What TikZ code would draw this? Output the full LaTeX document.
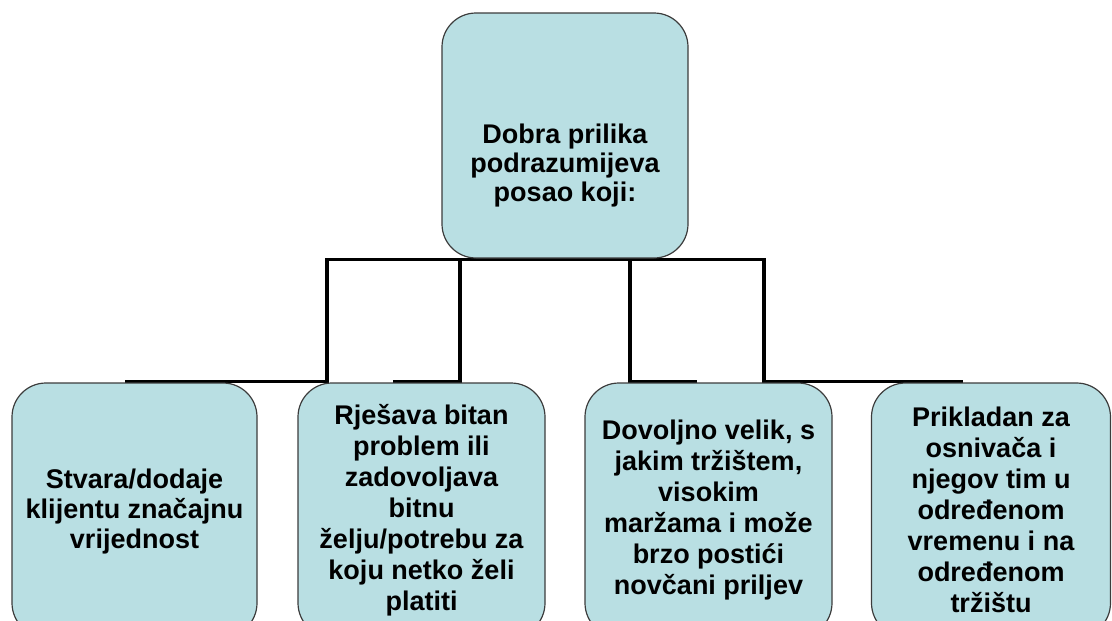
\documentclass[tikz,border=0pt]{standalone}
\usepackage{fontspec}
\setmainfont{Liberation Sans}
\definecolor{boxfill}{RGB}{185,223,227}
\definecolor{boxline}{RGB}{60,60,60}
\begin{document}
\begin{tikzpicture}[x=1pt,y=-1pt,
  box/.style={draw=boxline, line width=1.2pt, fill=boxfill, rounded corners=34pt,
    align=center, inner sep=0pt, text=black},
  txt/.style={align=center, inner sep=0pt, text=black},
  topfont/.style={font=\bfseries\fontsize{27}{29}\selectfont},
  botfont/.style={font=\bfseries\fontsize{27}{31}\selectfont},
  conn/.style={line width=3.6pt, black, line join=miter}]
\useasboundingbox (0,0) rectangle (1112,621);
% junction points
\coordinate (j1) at (327,259.5);
\coordinate (j2) at (460,259.5);
\coordinate (j3) at (630,259.5);
\coordinate (j4) at (764,259.5);
\coordinate (e1) at (125,381.5);
\coordinate (e2) at (393,381.5);
\coordinate (e3) at (697,381.5);
\coordinate (e4) at (963,381.5);
% connectors
\draw[conn] (e1) -| (j1) -- (j4) |- (e4);
\draw[conn] (j2) |- (e2);
\draw[conn] (j3) |- (e3);
% boxes
\node[box, minimum width=246pt, minimum height=245pt] (top) at (565,135.5) {};
\node[txt, topfont] (toptext) at (565,166) {Dobra prilika\\podrazumijeva\\posao koji:};
\node[box, botfont, minimum width=245pt, minimum height=254pt] (b1) at (134.5,510) {};
\node[txt, font=\bfseries\fontsize{27}{30}\selectfont] (b1text) at (134.5,512)
  {Stvara/dodaje\\klijentu značajnu\\vrijednost};
\node[box, botfont, minimum width=247pt, minimum height=254pt] (b2) at (421.5,510)
  {Rješava bitan\\problem ili\\zadovoljava\\bitnu\\želju/potrebu za\\koju netko želi\\platiti};
\node[box, botfont, minimum width=247pt, minimum height=254pt] (b3) at (708.5,510)
  {Dovoljno velik, s\\jakim tržištem,\\visokim\\maržama i može\\brzo postići\\novčani priljev};
\node[box, botfont, minimum width=239pt, minimum height=254pt] (b4) at (991,510)
  {Prikladan za\\osnivača i\\njegov tim u\\određenom\\vremenu i na\\određenom\\tržištu};
\end{tikzpicture}
\end{document}
